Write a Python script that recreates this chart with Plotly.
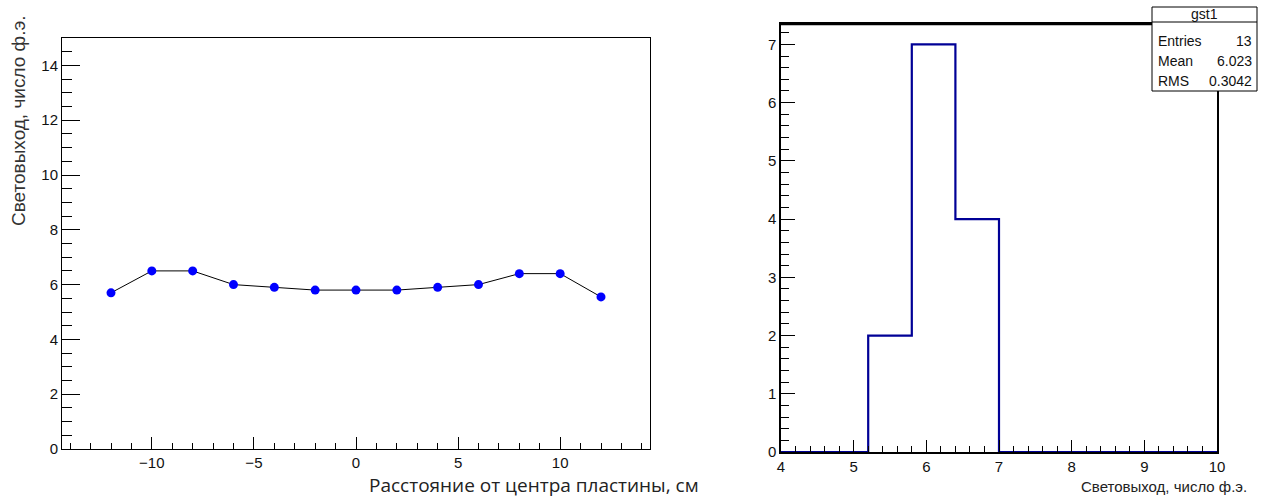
import plotly.graph_objects as go

# ---- data ----
positions = [-12, -10, -8, -6, -4, -2, 0, 2, 4, 6, 8, 10, 12]
light_yield = [5.7, 6.5, 6.5, 6.0, 5.9, 5.8, 5.8, 5.8, 5.9, 6.0, 6.4, 6.4, 5.55]

bin_edges = [4.0, 4.6, 5.2, 5.8, 6.4, 7.0, 7.6, 8.2, 8.8, 9.4, 10.0]
bin_counts = [0, 0, 2, 7, 4, 0, 0, 0, 0, 0]

stats_title = "gst1"
stats_names = ["Entries", "Mean", "RMS"]
stats_values = ["13", "6.023", "0.3042"]

left_xtitle = "Расстояние от центра пластины, см"
ytitle = "Световыход, число ф.э."
right_xtitle = "Световыход, число ф.э."

W, H = 1263, 498
def px(x):
    return x / W
def py(y):
    return 1 - y / H

fig = go.Figure()

fig.add_trace(go.Scatter(
    x=positions, y=light_yield, mode="lines+markers",
    line=dict(color="black", width=1),
    marker=dict(color="#0000ff", size=9, symbol="circle"),
    xaxis="x", yaxis="y", showlegend=False,
))

step_y = bin_counts + [bin_counts[-1]]
fig.add_trace(go.Scatter(
    x=bin_edges, y=step_y, mode="lines", line_shape="hv",
    line=dict(color="#000096", width=2.2),
    xaxis="x2", yaxis="y2", showlegend=False, cliponaxis=False,
))

tick_font = dict(family="Liberation Sans, Arial, sans-serif", size=15, color="#111")
narrow_font = dict(family="Liberation Sans Narrow, Liberation Sans, Arial Narrow, sans-serif", size=15, color="#111")

fig.update_layout(
    width=W, height=H, autosize=False,
    margin=dict(l=0, r=0, t=0, b=0),
    paper_bgcolor="white", plot_bgcolor="white",
    xaxis=dict(
        domain=[px(62), px(650)], range=[-14.4, 14.4], anchor="y", automargin=False,
        showgrid=False, zeroline=False, showline=True, mirror=True,
        linecolor="black", linewidth=1,
        tickmode="array", tickvals=[-10, -5, 0, 5, 10],
        ticktext=["\u221210", "\u22125", "0", "5", "10"],
        ticks="inside", ticklen=12, tickcolor="black", tickwidth=1,
        tickfont=tick_font,
        minor=dict(ticks="inside", ticklen=6, dtick=1, tick0=0, tickcolor="black", showgrid=False),
    ),
    yaxis=dict(
        domain=[py(449), py(38)], range=[0, 15], anchor="x", automargin=False,
        showgrid=False, zeroline=False, showline=True, mirror=True,
        linecolor="black", linewidth=1,
        tickmode="linear", tick0=0, dtick=2,
        ticks="inside", ticklen=18, tickcolor="black", tickwidth=1,
        tickfont=tick_font,
        minor=dict(ticks="inside", ticklen=10, dtick=0.5, tick0=0, tickcolor="black", showgrid=False),
    ),
    xaxis2=dict(
        domain=[px(781), px(1217)], range=[4, 10], anchor="y2", automargin=False,
        showgrid=False, zeroline=False, showline=True, mirror=True,
        linecolor="black", linewidth=1.5,
        tickmode="linear", tick0=4, dtick=1,
        ticks="inside", ticklen=12, tickcolor="black", tickwidth=1,
        tickfont=narrow_font,
        minor=dict(ticks="inside", ticklen=6, dtick=0.2, tick0=4, tickcolor="black", showgrid=False),
    ),
    yaxis2=dict(
        domain=[py(452), py(24)], range=[0, 7.35], anchor="x2", automargin=False,
        showgrid=False, zeroline=False, showline=True, mirror=True,
        linecolor="black", linewidth=1.5,
        tickmode="linear", tick0=0, dtick=1,
        ticks="inside", ticklen=14, tickcolor="black", tickwidth=1,
        tickfont=narrow_font,
        minor=dict(ticks="inside", ticklen=8, dtick=0.2, tick0=0, tickcolor="black", showgrid=False),
    ),
)

shapes = []
# thicker top frame line of right panel
shapes.append(dict(type="line", xref="paper", yref="paper",
                   x0=px(780), x1=px(1217), y0=py(24), y1=py(24),
                   line=dict(color="black", width=2.5)))
# stats box
shapes.append(dict(type="rect", xref="paper", yref="paper",
                   x0=px(1152), x1=px(1257), y0=py(91), y1=py(7),
                   line=dict(color="black", width=1), fillcolor="white"))
shapes.append(dict(type="line", xref="paper", yref="paper",
                   x0=px(1152), x1=px(1257), y0=py(22), y1=py(22),
                   line=dict(color="black", width=1)))
fig.update_layout(shapes=shapes)

stats_font = dict(family="Liberation Sans Narrow, Liberation Sans, sans-serif", size=14, color="#111")
ann = []
ann.append(dict(text=ytitle, xref="paper", yref="paper", x=px(18), y=py(121),
                xanchor="center", yanchor="middle", textangle=-90, showarrow=False,
                font=dict(family="Liberation Sans, Arial, sans-serif", size=19, color="#333")))
ann.append(dict(text=left_xtitle, xref="paper", yref="paper", x=px(701), y=py(485),
                xanchor="right", yanchor="middle", showarrow=False,
                font=dict(family="Open Sans, sans-serif", size=19, color="#222")))
ann.append(dict(text=right_xtitle, xref="paper", yref="paper", x=px(1249), y=py(486),
                xanchor="right", yanchor="middle", showarrow=False,
                font=dict(family="Liberation Sans Narrow, Liberation Sans, sans-serif", size=15, color="#222")))
ann.append(dict(text=stats_title, xref="paper", yref="paper", x=px(1204), y=py(14),
                xanchor="center", yanchor="middle", showarrow=False, font=stats_font))
row_y = [41, 61, 81]
for name, val, yy in zip(stats_names, stats_values, row_y):
    ann.append(dict(text=name, xref="paper", yref="paper", x=px(1156), y=py(yy),
                    xanchor="left", yanchor="middle", showarrow=False, font=stats_font))
    ann.append(dict(text=val, xref="paper", yref="paper", x=px(1254), y=py(yy),
                    xanchor="right", yanchor="middle", showarrow=False, font=stats_font))
fig.update_layout(annotations=ann)

fig.write_html(
    "out.html",
    config={"responsive": False, "displayModeBar": False},
    post_script="document.body.style.margin='0';document.body.style.overflow='hidden';",
)
